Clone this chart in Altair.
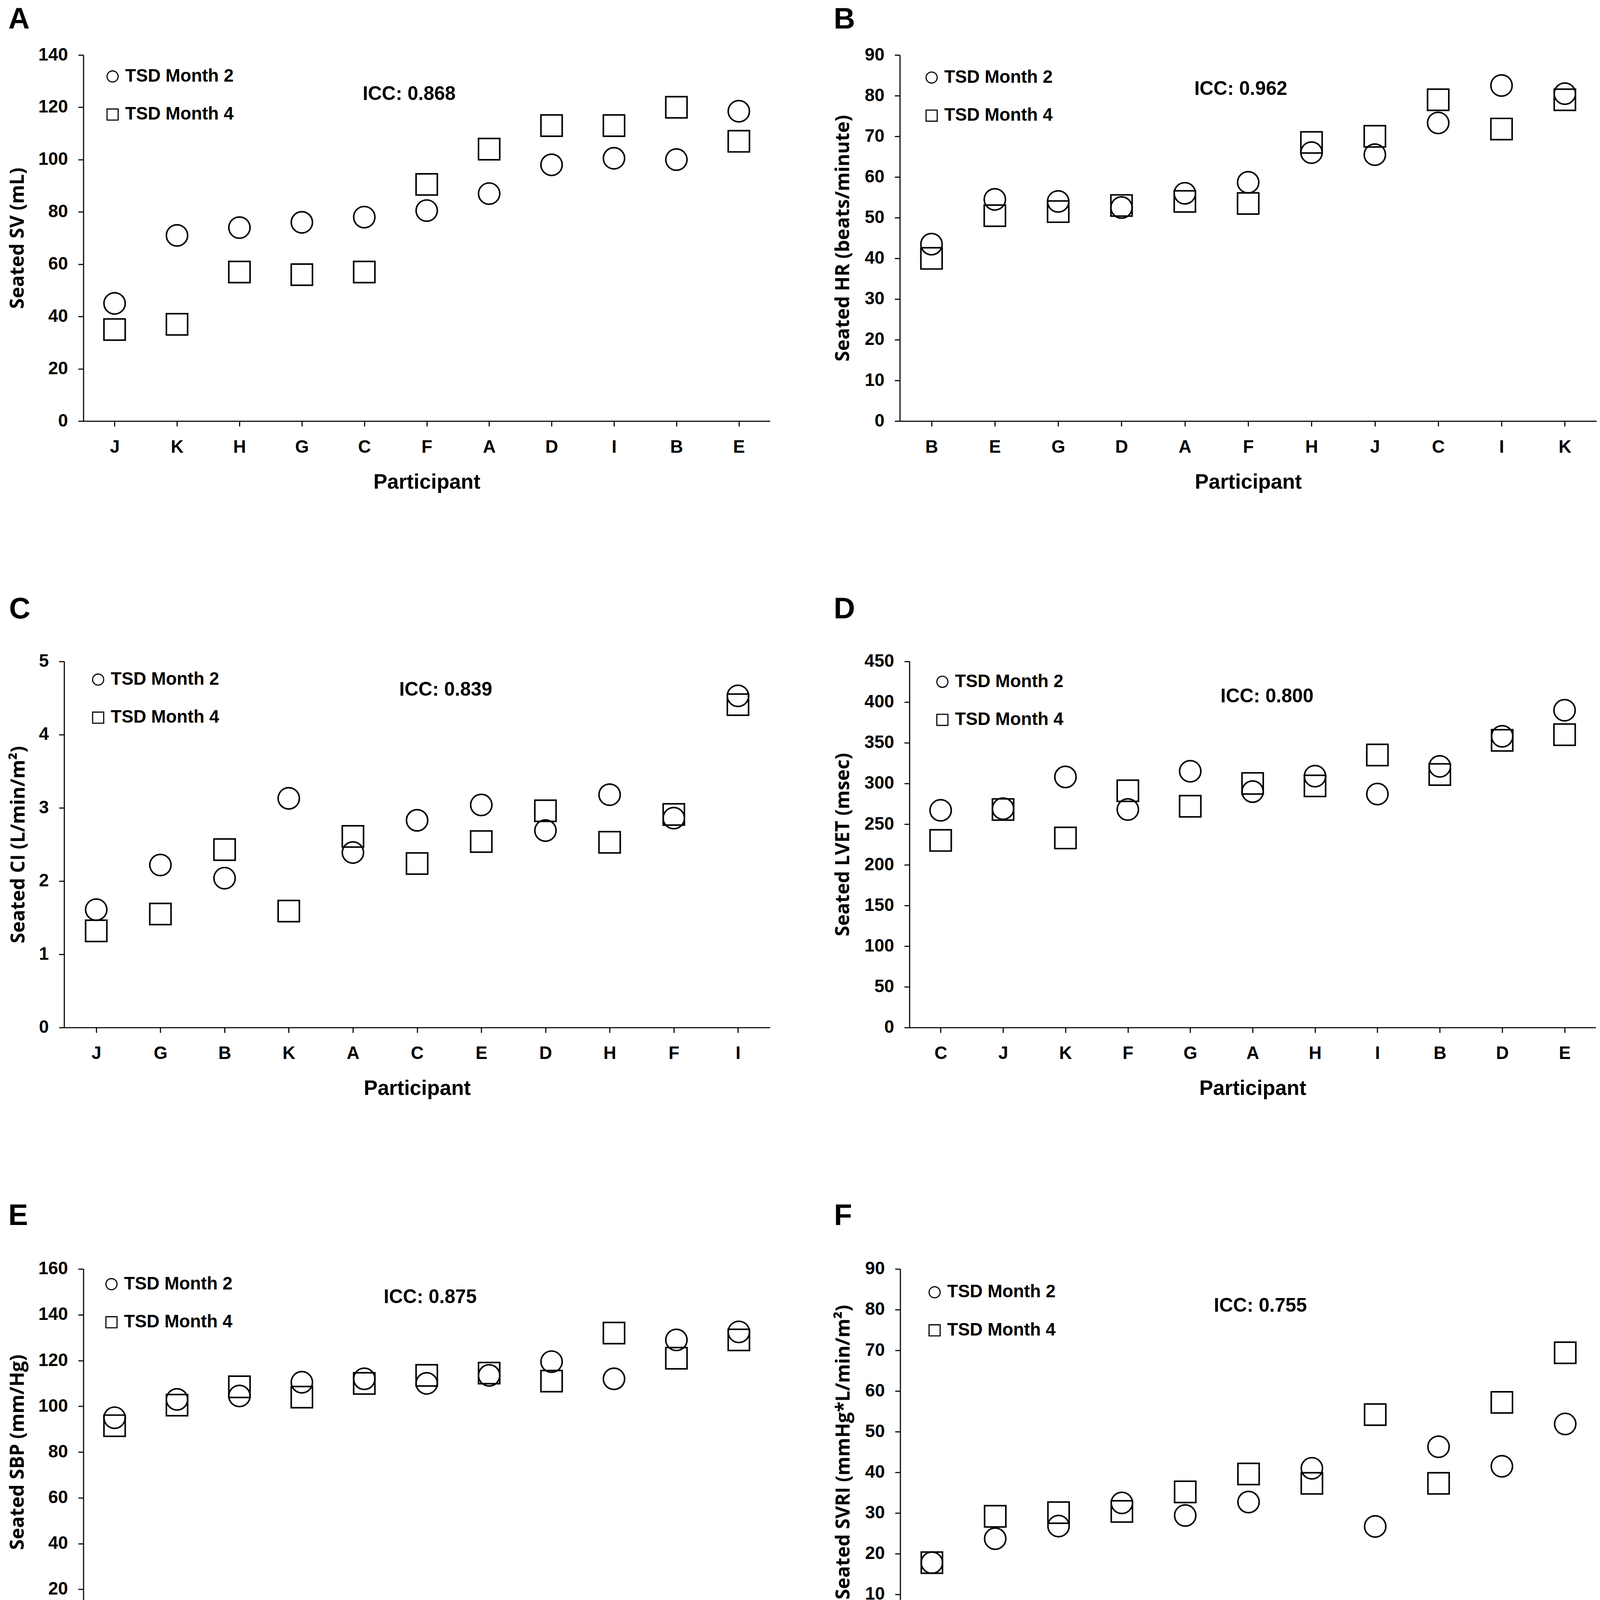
import altair as alt
import pandas as pd

SERIES = ["TSD Month 2", "TSD Month 4"]

# Panel A: Seated SV (mL)
A_cats = ["J", "K", "H", "G", "C", "F", "A", "D", "I", "B", "E"]
A_m2 = [45, 71, 74, 76, 78, 80.5, 87, 98, 100.5, 100, 118.5]
A_m4 = [35, 37, 57, 56, 57, 90.5, 104, 113, 113, 120, 107]
A_ticks = [0, 20, 40, 60, 80, 100, 120, 140]

# Panel B: Seated HR (beats/minute)
B_cats = ["B", "E", "G", "D", "A", "F", "H", "J", "C", "I", "K"]
B_m2 = [43.5, 54.5, 54, 52.5, 56, 58.7, 66, 65.5, 73.3, 82.5, 80.5]
B_m4 = [40, 50.5, 51.5, 53, 54, 53.5, 68.5, 70, 79, 71.8, 79]
B_ticks = [0, 10, 20, 30, 40, 50, 60, 70, 80, 90]

# Panel C: Seated CI (L/min/m²)
C_cats = ["J", "G", "B", "K", "A", "C", "E", "D", "H", "F", "I"]
C_m2 = [1.61, 2.22, 2.04, 3.13, 2.39, 2.83, 3.04, 2.69, 3.18, 2.86, 4.53]
C_m4 = [1.32, 1.55, 2.43, 1.59, 2.61, 2.24, 2.54, 2.96, 2.53, 2.91, 4.41]
C_ticks = [0, 1, 2, 3, 4, 5]

# Panel D: Seated LVET (msec)
D_cats = ["C", "J", "K", "F", "G", "A", "H", "I", "B", "D", "E"]
D_m2 = [267, 269, 308, 268, 315, 290, 309, 287, 321, 358, 390]
D_m4 = [230, 268, 233, 291, 272, 300, 297, 335, 311, 353, 360]
D_ticks = [0, 50, 100, 150, 200, 250, 300, 350, 400, 450]

# Panel E: Seated SBP (mm/Hg)
E_cats = ["H", "I", "K", "E", "D", "J", "G", "C", "F", "B", "A"]
E_m2 = [95, 103, 104.5, 110.5, 112, 110, 113.5, 119.5, 112, 129, 132.5]
E_m4 = [91.5, 100.5, 108.5, 104, 110, 113.5, 114.5, 111, 132, 121, 129]
E_ticks = [0, 20, 40, 60, 80, 100, 120, 140, 160]

# Panel F: Seated SVRI (mmHg*L/min/m²)
F_cats = ["I", "H", "E", "D", "F", "C", "A", "K", "B", "G", "J"]
F_m2 = [17.8, 23.7, 26.8, 32.5, 29.4, 32.7, 41, 26.7, 46.3, 41.5, 51.9]
F_m4 = [17.8, 29.2, 30.1, 30.4, 35.2, 39.6, 37.3, 54.2, 37.3, 57.2, 69.4]
F_ticks = [0, 10, 20, 30, 40, 50, 60, 70, 80, 90]

FONT = "Liberation Sans"
YFONT = "Open Sans"
H = 990


def panel(letter, cats, m2, m4, ticks, ytitle, icc, width, title_x, leg_xy, icc_xy, toff):
    df = pd.DataFrame({
        "Participant": cats + cats,
        "value": m2 + m4,
        "series": [SERIES[0]] * len(cats) + [SERIES[1]] * len(cats),
    })
    x = alt.X(
        "Participant:N", sort=cats,
        scale=alt.Scale(type="point", padding=0.5),
        axis=alt.Axis(title="Participant", labelAngle=0, labelPadding=33,
                      titlePadding=43, titleFontSize=56, grid=False),
    )
    y = alt.Y(
        "value:Q",
        scale=alt.Scale(domain=[ticks[0], ticks[-1]], nice=False, zero=True),
        axis=alt.Axis(title=ytitle, values=ticks, labelPadding=28, grid=False,
                      titleX=title_x, titleY=H / 2, titleFont=YFONT, titleFontSize=52),
    )
    pts = alt.Chart(df).mark_point(
        filled=False, stroke="black", strokeWidth=4.2, size=3300, opacity=1
    ).encode(
        x=x, y=y,
        shape=alt.Shape(
            "series:N",
            scale=alt.Scale(domain=SERIES, range=["circle", "square"]),
            legend=alt.Legend(
                title=None, orient="none", legendX=leg_xy[0], legendY=leg_xy[1],
                labelFont=FONT, labelFontSize=48, labelFontWeight="bold",
                labelColor="black", labelLimit=0, symbolSize=900, symbolStrokeWidth=3,
                symbolStrokeColor="black", symbolFillColor="transparent",
                rowPadding=55, labelOffset=10, padding=0,
            ),
        ),
    )
    txt = alt.Chart(pd.DataFrame({"t": [icc]})).mark_text(
        font=FONT, fontSize=52, fontWeight="bold", color="black",
        align="center", baseline="middle",
    ).encode(x=alt.value(icc_xy[0]), y=alt.value(icc_xy[1]), text="t:N")
    return alt.layer(pts, txt).properties(
        width=width, height=H,
        title=alt.TitleParams(letter, anchor="start", frame="bounds", fontSize=80,
                              font=FONT, fontWeight="bold", color="black", offset=toff),
    )


def spacer(w):
    # empty, invisible cell used only to offset a row horizontally
    return alt.Chart(pd.DataFrame({"s": [0]})).mark_point(opacity=0, size=1).encode(
        x=alt.value(1), y=alt.value(1)
    ).properties(width=w, height=10)


pA = panel("A", A_cats, A_m2, A_m4, A_ticks, "Seated SV (mL)", "ICC: 0.868",
           1857, -150, (55, 34), (881, 106), 31)
pB = panel("B", B_cats, B_m2, B_m4, B_ticks, "Seated HR (beats/minute)", "ICC: 0.962",
           1884, -126, (62, 37), (922, 92), 31)
pC = panel("C", C_cats, C_m2, C_m4, C_ticks, "Seated CI (L/min/m²)", "ICC: 0.839",
           1909, -96, (68, 25), (1032, 77), 75)
pD = panel("D", D_cats, D_m2, D_m4, D_ticks, "Seated LVET (msec)", "ICC: 0.800",
           1856, -152, (65, 31), (967, 95), 75)
pE = panel("E", E_cats, E_m2, E_m4, E_ticks, "Seated SBP (mm/Hg)", "ICC: 0.875",
           1857, -150, (52, 17), (938, 76), 78)
pF = panel("F", F_cats, F_m2, F_m4, F_ticks, "Seated SVRI (mmHg*L/min/m²)", "ICC: 0.755",
           1884, -126, (69, 39), (974, 100), 78)


def indep(c):
    return c.resolve_scale(
        x="independent", y="independent", shape="independent"
    ).resolve_legend(shape="independent")


def row(a, b, sp_w):
    inner = indep(alt.hconcat(a, b, spacing=172))
    return indep(alt.hconcat(spacer(sp_w), inner, spacing=0))


chart = indep(alt.concat(row(pA, pB, 63), row(pC, pD, 65), row(pE, pF, 63),
                         columns=1, spacing=277, align="none")).properties(
    padding={"left": -49, "top": -122, "right": 0, "bottom": 0},
    background="white",
).configure_view(stroke=None).configure_axis(
    labelFont=FONT, labelFontSize=48, labelFontWeight="bold", labelColor="black",
    titleFont=FONT, titleFontWeight="bold", titleColor="black",
    domainColor="black", domainWidth=3, tickColor="black", tickWidth=3, tickSize=14,
)

chart.save("out.html", embed_options={"renderer": "svg", "actions": False})
